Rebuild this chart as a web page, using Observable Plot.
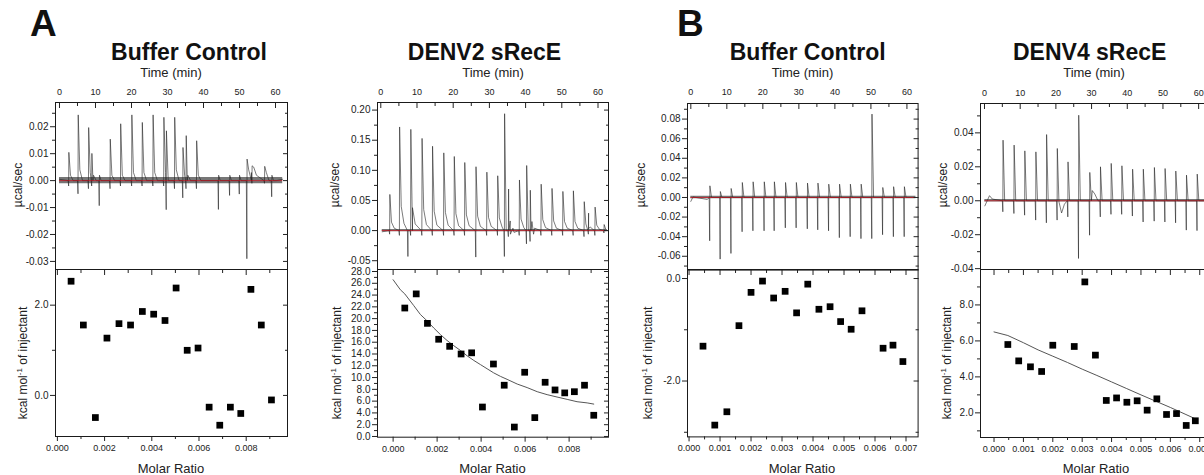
<!DOCTYPE html>
<html><head><meta charset="utf-8">
<script src="https://cdn.jsdelivr.net/npm/d3@7"></script>
<script src="https://cdn.jsdelivr.net/npm/@observablehq/plot@0.6"></script>
<style>
html,body{margin:0;padding:0;background:#fff;}
#root{position:relative;width:1204px;height:475px;overflow:hidden;font-family:"Liberation Sans",Arial,Helvetica,sans-serif;color:#111;}
.t{position:absolute;white-space:nowrap;line-height:1;}
.letter{font-weight:bold;font-size:37px;}
.title{font-weight:bold;font-size:23px;transform:translateX(-50%);}
.axt{font-size:13px;transform:translateX(-50%);color:#222;}
.yl{font-size:12px;transform:translate(-50%,-50%) rotate(-90deg);color:#222;}
.yl sup{font-size:8px;}
</style></head>
<body><div id="root"></div>
<script>
// ---------- shared tick values ----------
const timeMajor = [0, 10, 20, 30, 40, 50, 60];
const timeMinor = [5, 15, 25, 35, 45, 55];
const ratioMajor8 = [0, 0.002, 0.004, 0.006, 0.008];
const ratioMinor8 = [0.001, 0.003, 0.005, 0.007, 0.009];
const ratioMajor7 = [0, 0.001, 0.002, 0.003, 0.004, 0.005, 0.006, 0.007];
const ratioMinor7 = [0.0005, 0.0015, 0.0025, 0.0035, 0.0045, 0.0055, 0.0065, 0.0075];

// ---------- A: Buffer Control ----------
const a1Range = [0, 62];
const a1InjTime = [2.6,5.2,8.1,9.0,11.1,14.1,17.0,20.1,23.0,26.0,29.0,29.7,32.0,34.3,35.2,38.1,44.2,47.3,50.0,52.1,53.5,57.0,59.0];
const a1Peak = [0.0105,0.0244,0.0197,0.0101,0.002,0.0154,0.0211,0.0244,0.0216,0.0244,0.0235,0.0185,0.0235,0.0123,0.0167,0.0148,0.002,0.002,0.002,0.008,0.0055,0.0053,0.002];
const a1Trough = [-0.002,-0.0049,-0.003,-0.002,-0.0093,-0.003,-0.002,-0.002,-0.002,-0.002,-0.002,-0.0108,-0.003,-0.0064,-0.003,-0.003,-0.0107,-0.0055,-0.005,-0.029,-0.001,-0.001,-0.006];
const a1TailA = [0.002,0.004,0.003,0.002,0,0.002,0.002,0.003,0.003,0.003,0.003,0.002,0.004,0.002,0.002,0.002,0,0,0,0.004,0.005,0.003,0];
const a1TailB = [0,0,0,0,0,0,0,0,0,0,0,0,0,0,0,0,0,0,0,0.003,0.002,0,0];
const a1ExtraTime = [0, 62];
const a1ExtraVal = [0.0005, 0.0005];
const a1Noise = 0.0012;
const a1PowerMajor = [-0.03,-0.02,-0.01,0,0.01,0.02];
const a1PowerMinor = [-0.025,-0.015,-0.005,0.005,0.015,0.025];
const a1Ratio = [0.00058,0.0011,0.00161,0.0021,0.00261,0.0031,0.0036,0.00408,0.00456,0.00503,0.0055,0.00596,0.00643,0.00688,0.00733,0.00777,0.0082,0.00864,0.00907];
const a1Heat = [2.53,1.56,-0.49,1.27,1.59,1.56,1.86,1.80,1.66,2.38,1.00,1.05,-0.26,-0.66,-0.26,-0.40,2.35,1.56,-0.10];
const a1HeatMajor = [0, 2];
const a1HeatMinor = [1];

// ---------- A: DENV2 sRecE ----------
const d2Range = [0.4, 62.5];
const d2InjTime = [2.5,5.2,7.55,8.3,11.4,14.3,17.4,20.3,23.2,26.3,29.3,32.3,34.2,35.3,38.3,40.3,41.3,44.3,47.3,50.3,53.2,56.2,57.4,59.2,61.7];
const d2Peak = [0.060,0.172,0,0.168,0.153,0.140,0.129,0.123,0.113,0.106,0.097,0.091,0.194,0.069,0.084,0.108,0.067,0.077,0.070,0.065,0.066,0.048,0.029,0.039,0.010];
const d2Trough = [-0.006,-0.008,-0.043,-0.008,-0.008,-0.008,-0.008,-0.008,-0.008,-0.044,-0.008,-0.008,-0.043,-0.010,-0.008,-0.022,-0.018,-0.008,-0.008,-0.008,-0.008,-0.010,-0.006,-0.008,-0.004];
const d2TailA = [0.014,0.040,0,0.038,0.035,0.032,0.030,0.028,0.026,0.024,0.022,0.021,0,0.016,0.019,0,0.015,0.018,0.016,0.015,0.015,0.011,0.006,0.009,0.002];
const d2TailB = [0.004,0.012,0,0.011,0.010,0.009,0.009,0.008,0.008,0.007,0.007,0.006,0,0.004,0.005,0,0.004,0.005,0.004,0.004,0.004,0.003,0.002,0.002,0];
const d2ExtraTime = [0.4, 35.8, 36.8, 42.2, 62.5];
const d2ExtraVal = [-0.002, -0.006, -0.003, -0.006, 0];
const d2Noise = 0.002;
const d2PowerMajor = [-0.05,0,0.05,0.10,0.15,0.20];
const d2PowerMinor = [-0.025,0.025,0.075,0.125,0.175];
const d2Ratio = [0.00053,0.00105,0.00156,0.00207,0.00257,0.00309,0.00357,0.00406,0.00456,0.00505,0.00551,0.00598,0.00644,0.00691,0.00736,0.0078,0.00824,0.0087,0.00912];
const d2Heat = [21.8,24.2,19.2,16.5,15.3,14.0,14.2,5.0,12.3,8.7,1.6,10.9,3.2,9.2,7.9,7.4,7.6,8.7,3.6];
const d2FitRatio = [0,0.00033,0.00053,0.00094,0.00124,0.00155,0.00185,0.00215,0.00245,0.00276,0.00306,0.00336,0.00367,0.00397,0.00427,0.00457,0.00488,0.00518,0.00564,0.00609,0.00655,0.007,0.00745,0.00791,0.00836,0.00882,0.00912];
const d2FitHeat = [26.6,24.9,24.2,22.2,20.7,19.6,18.4,17.3,16.3,15.4,14.6,13.7,12.9,12.2,11.5,10.8,10.2,9.7,8.9,8.3,7.6,7.1,6.7,6.3,5.9,5.7,5.5];
const d2HeatMajor = [0,2,4,6,8,10,12,14,16,18,20,22,24,26,28];
const d2HeatMinor = [1,3,5,7,9,11,13,15,17,19,21,23,25,27];

// ---------- B: Buffer Control ----------
const b3Range = [0, 62.5];
const b3InjTime = [5.3,8.2,11.2,14.3,17.3,20.4,23.2,26.3,29.3,32.4,35.3,38.3,41.3,44.3,47.3,50.3,53.3,56.3,59.3];
const b3Peak = [0.0119,0.0061,0.0092,0.0153,0.016,0.016,0.016,0.0153,0.0153,0.0147,0.0147,0.0136,0.0136,0.0136,0.0136,0.0851,0.0102,0.011,0.011];
const b3Trough = [-0.0442,-0.0629,-0.0571,-0.035,-0.034,-0.034,-0.034,-0.031,-0.031,-0.032,-0.033,-0.034,-0.041,-0.04,-0.042,-0.042,-0.038,-0.04,-0.04];
const b3ExtraTime = [0, 0.6, 4.6, 62.5];
const b3ExtraVal = [-0.004, 0.0005, -0.002, 0];
const b3Noise = 0.0012;
const b3PowerMajor = [-0.06,-0.04,-0.02,0,0.02,0.04,0.06,0.08];
const b3PowerMinor = [-0.07,-0.05,-0.03,-0.01,0.01,0.03,0.05,0.07,0.09];
const b3Ratio = [0.00045,0.00083,0.00122,0.00161,0.002,0.00237,0.00273,0.0031,0.00347,0.00383,0.00419,0.00455,0.00489,0.00523,0.00558,0.00626,0.00658,0.0069];
const b3Heat = [-1.32,-2.86,-2.60,-0.92,-0.27,-0.05,-0.38,-0.25,-0.67,-0.11,-0.60,-0.55,-0.84,-0.99,-0.63,-1.36,-1.30,-1.62];
const b3HeatMajor = [-2, 0];
const b3HeatMinor = [-3, -1];

// ---------- B: DENV4 sRecE ----------
const d4Range = [0.1, 63.5];
const d4InjTime = [5.2,8.3,11.3,14.4,17.4,20.4,23.4,26.4,29.5,32.5,35.5,38.5,41.5,44.5,47.6,50.6,53.6,56.6,59.6];
const d4Peak = [0.0357,0.0328,0.0294,0.0288,0.039,0.0308,0.0229,0.0504,0.0167,0.020,0.022,0.0206,0.0186,0.0186,0.0196,0.019,0.0175,0.0151,0.0157];
const d4Trough = [-0.0065,-0.0075,-0.0085,-0.0114,-0.013,-0.0114,-0.0095,-0.034,-0.0203,-0.0095,-0.008,-0.008,-0.009,-0.0125,-0.012,-0.0125,-0.013,-0.0173,-0.0176];
const d4ExtraTime = [0.1, 1.4, 2.2, 20.9, 21.6, 22.4, 30.2, 30.9, 31.8, 63.5];
const d4ExtraVal = [-0.003, 0.003, 0.001, -0.001, -0.0072, -0.002, 0.006, 0.004, 0, 0];
const d4Noise = 0.0008;
const d4PowerMajor = [-0.04,-0.02,0,0.02,0.04];
const d4PowerMinor = [-0.03,-0.01,0.01,0.03,0.05];
const d4Ratio = [0.00047,0.00084,0.00124,0.00162,0.002,0.00273,0.00309,0.00345,0.00382,0.00417,0.00452,0.00487,0.00521,0.00554,0.00587,0.00621,0.00654,0.00685];
const d4Heat = [5.80,4.89,4.56,4.30,5.76,5.69,9.28,5.21,2.69,2.83,2.59,2.67,2.15,2.78,1.91,1.96,1.30,1.56];
const d4FitRatio = [0,0.00047,0.001,0.0015,0.002,0.0025,0.003,0.0035,0.004,0.0045,0.005,0.0055,0.006,0.0065,0.00685];
const d4FitHeat = [6.5,6.3,5.9,5.5,5.15,4.8,4.43,4.08,3.72,3.36,3.0,2.65,2.3,1.93,1.67];
const d4HeatMajor = [2,4,6,8];
const d4HeatMinor = [1,3,5,7,9];

// ---------- helpers ----------
const loc = d3.formatLocale({decimal: ".", thousands: ",", grouping: [3], currency: ["", ""], minus: "-"});
const f1 = loc.format(".1f"), f2 = loc.format(".2f"), f3 = loc.format(".3f");
const root = document.getElementById("root");

function inDom(arr, dom) {
  const lo = Math.min(...dom) - 1e-12, hi = Math.max(...dom) + 1e-12;
  return arr.filter(v => v >= lo && v <= hi);
}
// trace vertices: small undershoot, peak, then decay tail values
function buildTrace(T, U, D, A, B, XT, XV) {
  const pts = [];
  T.forEach((t, i) => {
    pts.push({t: t - 0.2, v: 0});
    pts.push({t: t - 0.06, v: D[i]});
    pts.push({t: t, v: U[i]});
    pts.push({t: t + 0.45, v: A ? A[i] : 0});
    if (B) pts.push({t: t + 1.2, v: B[i]});
  });
  XT.forEach((t, i) => pts.push({t, v: XV[i]}));
  return pts.sort((a, b) => a.t - b.t);
}
function points(X, Y) { return X.map((x, i) => ({x, y: Y[i]})); }

const M = {l: 60, r: 14, t: 24, b: 24};
function half(cfg) {
  const [x0, x1] = cfg.xPix, [y0, y1] = cfg.yPix;
  const W = x1 - x0, H = y1 - y0;
  const xMaj = inDom(cfg.xMajor, cfg.xDomain), xMin = inDom(cfg.xMinor, cfg.xDomain);
  const yMaj = inDom(cfg.yMajor, cfg.yDomain), yMin = inDom(cfg.yMinor, cfg.yDomain);
  const marks = [
    ...cfg.marks,
    Plot.frame({stroke: "#1a1a1a", strokeWidth: 1}),
    Plot.axisY({anchor: "left", ticks: yMaj, tickSize: 5, tickPadding: 2, tickFormat: cfg.yFormat, label: null, fontSize: 10}),
    Plot.axisY({anchor: "left", ticks: yMin, tickSize: 3, fill: "none", label: null}),
    Plot.axisY({anchor: "right", ticks: yMaj, tickSize: 5, dx: -5, fill: "none", label: null}),
    Plot.axisY({anchor: "right", ticks: yMin, tickSize: 3, dx: -3, fill: "none", label: null}),
    Plot.axisX({anchor: "top", ticks: xMaj, tickSize: 5, dy: 5, fill: "none", label: null}),
    Plot.axisX({anchor: "top", ticks: xMin, tickSize: 3, dy: 3, fill: "none", label: null})
  ];
  if (cfg.top) {
    marks.push(Plot.axisX({anchor: "top", ticks: xMaj, tickSize: 0, tickPadding: 8, tickFormat: cfg.xFormat, label: null, fontSize: 9}));
  } else {
    marks.push(Plot.axisX({anchor: "bottom", ticks: xMaj, tickSize: 5, tickPadding: 3, tickFormat: cfg.xFormat, label: null, fontSize: 9}));
    marks.push(Plot.axisX({anchor: "bottom", ticks: xMin, tickSize: 3, fill: "none", label: null}));
  }
  const svg = Plot.plot({
    width: W + M.l + M.r, height: H + M.t + M.b,
    marginLeft: M.l, marginRight: M.r, marginTop: M.t, marginBottom: M.b,
    x: {domain: cfg.xDomain}, y: {domain: cfg.yDomain},
    style: {background: "transparent", overflow: "visible", maxWidth: "none", color: "#222",
            fontFamily: "Liberation Sans, Arial, Helvetica, sans-serif"},
    marks
  });
  svg.style.position = "absolute";
  svg.style.left = (x0 - M.l) + "px";
  svg.style.top = (y0 - M.t) + "px";
  root.appendChild(svg);
}

function thermoMarks(range, noise, trace) {
  return [
    Plot.areaY([{t: range[0]}, {t: range[1]}], {x: "t", y1: -noise, y2: noise, fill: "#1a1a1a", fillOpacity: 0.6}),
    Plot.line(trace, {x: "t", y: "v", stroke: "#222", strokeWidth: 0.6, clip: true}),
    Plot.ruleY([0], {x1: range[0], x2: range[1], stroke: "#e3000f", strokeWidth: 0.6})
  ];
}
function heatMarks(X, Y, FX, FY) {
  const m = [];
  if (FX) m.push(Plot.line(points(FX, FY), {x: "x", y: "y", stroke: "#555", strokeWidth: 1}));
  m.push(Plot.dot(points(X, Y), {x: "x", y: "y", symbol: "square", r: 3.8, fill: "#000", stroke: "none"}));
  return m;
}

// ---------- Panel A1 ----------
half({top: true, xPix: [55, 287], yPix: [102, 269], xDomain: [-1.11, 63.33], yDomain: [-0.033, 0.029],
  xMajor: timeMajor, xMinor: timeMinor, yMajor: a1PowerMajor, yMinor: a1PowerMinor, xFormat: d => String(d), yFormat: f2,
  marks: thermoMarks(a1Range, a1Noise, buildTrace(a1InjTime, a1Peak, a1Trough, a1TailA, a1TailB, a1ExtraTime, a1ExtraVal))});
half({top: false, xPix: [55, 287], yPix: [269, 436], xDomain: [-0.00008, 0.00975], yDomain: [-0.91, 2.79],
  xMajor: ratioMajor8, xMinor: ratioMinor8, yMajor: a1HeatMajor, yMinor: a1HeatMinor, xFormat: f3, yFormat: f1,
  marks: heatMarks(a1Ratio, a1Heat)});

// ---------- Panel A2 ----------
half({top: true, xPix: [377, 608], yPix: [102, 269], xDomain: [-0.91, 62.9], yDomain: [-0.0646, 0.2126],
  xMajor: timeMajor, xMinor: timeMinor, yMajor: d2PowerMajor, yMinor: d2PowerMinor, xFormat: d => String(d), yFormat: f2,
  marks: thermoMarks(d2Range, d2Noise, buildTrace(d2InjTime, d2Peak, d2Trough, d2TailA, d2TailB, d2ExtraTime, d2ExtraVal))});
half({top: false, xPix: [377, 608], yPix: [269, 436.7], xDomain: [-0.00071, 0.00979], yDomain: [-0.12, 28.34],
  xMajor: ratioMajor8, xMinor: ratioMinor8, yMajor: d2HeatMajor, yMinor: d2HeatMinor, xFormat: f3, yFormat: f1,
  marks: heatMarks(d2Ratio, d2Heat, d2FitRatio, d2FitHeat)});

// ---------- Panel B1 ----------
half({top: true, xPix: [686.7, 917.3], yPix: [102.7, 269.3], xDomain: [-0.92, 63.1], yDomain: [-0.0741, 0.0959],
  xMajor: timeMajor, xMinor: timeMinor, yMajor: b3PowerMajor, yMinor: b3PowerMinor, xFormat: d => String(d), yFormat: f2,
  marks: thermoMarks(b3Range, b3Noise, buildTrace(b3InjTime, b3Peak, b3Trough, null, null, b3ExtraTime, b3ExtraVal))});
half({top: false, xPix: [686.7, 917.3], yPix: [269.3, 436.7], xDomain: [-0.00005, 0.00739], yDomain: [-3.09, 0.176],
  xMajor: ratioMajor7, xMinor: ratioMinor7, yMajor: b3HeatMajor, yMinor: b3HeatMinor, xFormat: f3, yFormat: f1,
  marks: heatMarks(b3Ratio, b3Heat)});

// ---------- Panel B2 ----------
half({top: true, xPix: [980, 1211], yPix: [103.3, 269.3], xDomain: [-1.12, 63.6], yDomain: [-0.0405, 0.0573],
  xMajor: timeMajor, xMinor: timeMinor, yMajor: d4PowerMajor, yMinor: d4PowerMinor, xFormat: d => String(d), yFormat: f2,
  marks: thermoMarks(d4Range, d4Noise, buildTrace(d4InjTime, d4Peak, d4Trough, null, null, d4ExtraTime, d4ExtraVal))});
half({top: false, xPix: [980, 1211], yPix: [269.3, 437.3], xDomain: [-0.00046, 0.0074], yDomain: [0.63, 9.97],
  xMajor: ratioMajor7, xMinor: ratioMinor7, yMajor: d4HeatMajor, yMinor: d4HeatMinor, xFormat: f3, yFormat: f1,
  marks: heatMarks(d4Ratio, d4Heat, d4FitRatio, d4FitHeat)});

// ---------- text ----------
function txt(html, cls, x, y) {
  const d = document.createElement("div");
  d.className = "t " + cls;
  d.innerHTML = html;
  d.style.left = x + "px";
  d.style.top = y + "px";
  root.appendChild(d);
}
const panelLetters = ["A", "B"];
const panelTitles = ["Buffer Control", "DENV2 sRecE", "Buffer Control", "DENV4 sRecE"];
txt(panelLetters[0], "letter", 30, 5);
txt(panelLetters[1], "letter", 677, 5);
[189, 484.5, 807.7, 1089.7].forEach((x, i) => txt(panelTitles[i], "title", x, 41));
[171, 493, 802.5, 1094].forEach(x => txt("Time (min)", "axt", x, 65.5));
[171, 492.5, 802, 1096].forEach(x => txt("Molar Ratio", "axt", x, 461.5));
[18, 335, 641, 943].forEach(x => txt("µcal/sec", "yl", x, 185));
[22, 336, 647, 946].forEach(x => txt("kcal mol<sup>-1</sup> of injectant", "yl", x, 363));
</script>
</body></html>
